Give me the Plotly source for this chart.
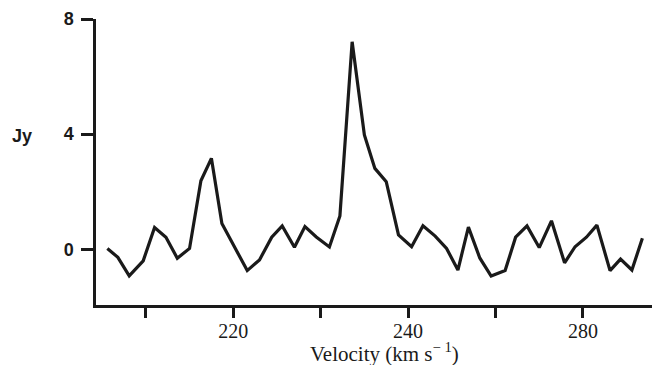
import plotly.graph_objects as go

# Velocity channels (km/s) and flux density (Jy)
velocity = [205.6, 206.8, 208.1, 209.7, 211.0, 212.3, 213.6, 215.0, 216.3, 217.5,
            218.7, 220.0, 221.6, 223.0, 224.4, 225.6, 227.0, 228.2, 229.5, 231.0,
            232.2, 233.6, 235.0, 236.2, 237.5, 238.9, 240.4, 241.7, 243.1, 244.4,
            245.7, 246.9, 248.2, 249.5, 251.1, 252.3, 253.6, 255.0, 256.4, 257.9,
            259.1, 260.4, 261.6, 263.1, 264.3, 265.6, 266.8]
flux = [0.03, -0.28, -0.92, -0.40, 0.76, 0.42, -0.31, 0.03, 2.38, 3.16,
        0.90, 0.18, -0.74, -0.37, 0.42, 0.81, 0.07, 0.79, 0.43, 0.08,
        1.16, 7.21, 3.97, 2.81, 2.35, 0.50, 0.09, 0.82, 0.46, 0.03,
        -0.72, 0.77, -0.30, -0.93, -0.74, 0.42, 0.81, 0.06, 0.99, -0.47,
        0.09, 0.42, 0.84, -0.74, -0.34, -0.72, 0.38]

x_tickvals = [210, 220, 230, 240, 250, 260]
x_ticktext = ["", "220", "", "240", "", "280"]
y_tickvals = [0, 4, 8]
y_ticktext = ["0", "4", "8"]

fig = go.Figure()
fig.add_trace(go.Scatter(
    x=velocity, y=flux, mode="lines",
    line=dict(color="#1a1a1a", width=3.2),
    hoverinfo="skip", showlegend=False,
))

fig.update_layout(
    width=656, height=365,
    margin=dict(l=96, r=4, t=19, b=60, autoexpand=False),
    paper_bgcolor="white", plot_bgcolor="white",
    showlegend=False,
    xaxis=dict(
        range=[204.3, 267.9], automargin=False,
        tickmode="array", tickvals=x_tickvals, ticktext=x_ticktext,
        ticks="outside", ticklen=10, tickwidth=2.5, tickcolor="#1a1a1a",
        showline=True, linecolor="#1a1a1a", linewidth=2.5,
        showgrid=False, zeroline=False,
        tickfont=dict(family="Liberation Serif", size=20, color="#1a1a1a"),
        ticklabelstandoff=-4,
    ),
    yaxis=dict(
        range=[-1.935, 8.0], automargin=False,
        tickmode="array", tickvals=y_tickvals, ticktext=y_ticktext,
        ticks="outside", ticklen=12, tickwidth=2.5, tickcolor="#1a1a1a",
        showline=True, linecolor="#1a1a1a", linewidth=2.5,
        showgrid=False, zeroline=False,
        tickfont=dict(family="Liberation Sans", size=18, color="#1a1a1a",
                      weight="bold"),
        ticklabelstandoff=4,
    ),
    annotations=[
        dict(text="<b>Jy</b>", xref="paper", yref="paper",
             x=-0.133, y=0.591, xanchor="center", yanchor="middle",
             showarrow=False,
             font=dict(family="Liberation Sans", size=18, color="#1a1a1a")),
        dict(text="Velocity (km s<sup>− 1</sup>)", xref="paper", yref="paper",
             x=0.518, y=-0.165, xanchor="center", yanchor="middle",
             showarrow=False,
             font=dict(family="Liberation Serif", size=21, color="#1a1a1a")),
    ],
)

fig.write_html(
    "out.html",
    config={"displayModeBar": False},
    post_script="document.body.style.margin='0';document.body.style.padding='0';",
)
